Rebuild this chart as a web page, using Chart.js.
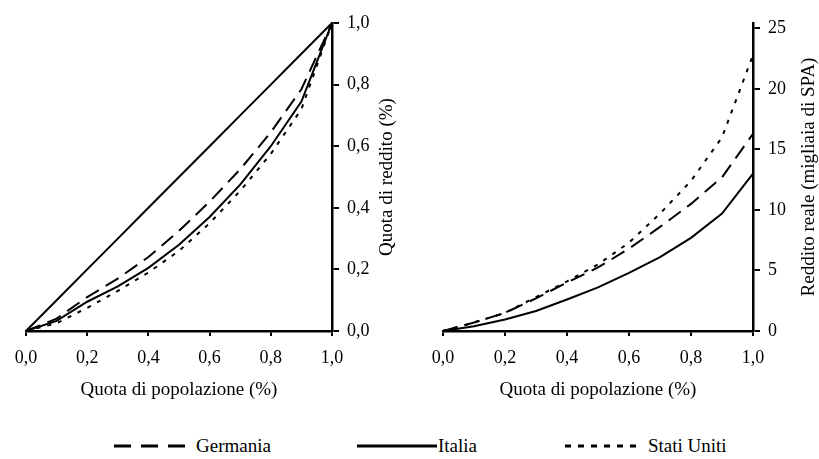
<!DOCTYPE html>
<html><head><meta charset="utf-8">
<script src="https://cdn.jsdelivr.net/npm/chart.js@4.4.1/dist/chart.umd.min.js"></script>
<style>
html,body{margin:0;padding:0;background:#fff;width:819px;height:459px;overflow:hidden;font-family:"Liberation Serif","Times New Roman",serif;}
#w1{position:absolute;left:0;top:0;width:410px;height:420px;}
#w2{position:absolute;left:410px;top:0;width:409px;height:420px;}
.leg{position:absolute;top:434px;height:24px;line-height:24px;font-size:19px;color:#000;white-space:nowrap;}
.leg svg{position:absolute;left:0;top:0;}
</style></head><body>
<div id="w1"><canvas id="c1"></canvas></div>
<div id="w2"><canvas id="c2"></canvas></div>
<div class="leg" id="lg0" style="left:114px;padding-left:82px;"></div>
<div class="leg" id="lg1" style="left:357px;padding-left:81px;"></div>
<div class="leg" id="lg2" style="left:565px;padding-left:83px;"></div>
<script>
// ---- data ----
const seriesNames = ['Germania', 'Italia', 'Stati Uniti'];
const popShare = [0, 0.1, 0.2, 0.3, 0.4, 0.5, 0.6, 0.7, 0.8, 0.9, 1.0];
const equalityLine = [0, 0.1, 0.2, 0.3, 0.4, 0.5, 0.6, 0.7, 0.8, 0.9, 1.0];
const germaniaQuota = [0, 0.04, 0.11, 0.17, 0.24, 0.325, 0.42, 0.525, 0.645, 0.785, 1.0];
const italiaQuota   = [0, 0.033, 0.095, 0.145, 0.205, 0.28, 0.37, 0.475, 0.6, 0.745, 1.0];
const usaQuota      = [0, 0.025, 0.075, 0.13, 0.19, 0.26, 0.35, 0.455, 0.575, 0.72, 1.0];
const germaniaReddito = [0, 0.7, 1.5, 2.7, 4.0, 5.25, 6.8, 8.6, 10.5, 12.7, 16.3];
const italiaReddito   = [0, 0.4, 0.95, 1.65, 2.6, 3.6, 4.8, 6.1, 7.7, 9.7, 13.0];
const usaReddito      = [0, 0.7, 1.5, 2.8, 4.1, 5.5, 7.3, 9.7, 12.4, 16.0, 22.8];
const xTicks = [0, 0.2, 0.4, 0.6, 0.8, 1.0];
const leftYTicks = [0, 0.2, 0.4, 0.6, 0.8, 1.0];
const rightYTicks = [0, 5, 10, 15, 20, 25];

// ---- styles ----
const FONT = 'Liberation Serif';
Chart.defaults.font.family = FONT;
Chart.defaults.font.size = 18;
Chart.defaults.color = '#000';
const dashG = [15, 8], dashU = [4, 7];
const pts = (ys) => popShare.map((x, i) => ({x: x, y: ys[i]}));
const comma = (v) => Number(v).toFixed(1).replace('.', ',');

function line(label, ys, dash) {
  return {label, data: pts(ys), borderColor: '#000', borderWidth: 2, borderDash: dash,
          pointRadius: 0, tension: 0, fill: false, clip: false};
}

const sideTitle = {
  id: 'sideTitle',
  afterDraw(chart, args, opts) {
    const {ctx, chartArea} = chart;
    ctx.save();
    ctx.font = '19px "' + FONT + '"';
    ctx.fillStyle = '#000';
    ctx.textAlign = 'center';
    ctx.textBaseline = 'middle';
    ctx.translate(chartArea.right + opts.offset, (chartArea.top + chartArea.bottom) / 2);
    ctx.rotate(-Math.PI / 2);
    ctx.fillText(opts.text, 0, 0);
    ctx.restore();
  }
};

function opts(cfg) {
  return {
    responsive: true, maintainAspectRatio: false, animation: false,
    layout: {padding: {left: cfg.padLeft, top: 23, right: 0, bottom: 0}},
    plugins: {legend: {display: false}, tooltip: {enabled: false},
              sideTitle: {text: cfg.yTitle, offset: cfg.titleOffset}},
    scales: {
      x: {type: 'linear', min: 0, max: 1, position: 'bottom',
          afterBuildTicks: (s) => { s.ticks = xTicks.map(v => ({value: v})); },
          afterFit: (s) => { s.height = 420 - 331; },
          ticks: {callback: comma, padding: 11, maxRotation: 0, autoSkip: false},
          grid: {drawOnChartArea: false, drawTicks: true, tickLength: 5, color: '#000', lineWidth: 2},
          border: {display: true, color: '#000', width: 2.5},
          title: {display: true, text: 'Quota di popolazione (%)', font: {size: 19}, padding: {top: 0, bottom: 19}}},
      y: {type: 'linear', min: 0, max: cfg.yMax, position: 'right', bounds: 'data',
          afterBuildTicks: (s) => { s.ticks = cfg.yTicks.map(v => ({value: v})); },
          afterFit: (s) => { s.width = cfg.yWidth; },
          ticks: {callback: cfg.yFmt, padding: 8, autoSkip: false},
          grid: {drawOnChartArea: false, drawTicks: true, tickLength: 7, color: '#000', lineWidth: 2},
          border: {display: true, color: '#000', width: 2.5},
          title: {display: false}}
    }
  };
}

new Chart(document.getElementById('c1'), {
  type: 'line',
  data: {datasets: [
    line('Uguaglianza', equalityLine, []),
    line(seriesNames[0], germaniaQuota, dashG),
    line(seriesNames[1], italiaQuota, []),
    line(seriesNames[2], usaQuota, dashU)
  ]},
  options: opts({padLeft: 26, yMax: 1, yTicks: leftYTicks, yWidth: 410 - 332, yFmt: comma,
                 yTitle: 'Quota di reddito (%)', titleOffset: 55}),
  plugins: [sideTitle]
});

new Chart(document.getElementById('c2'), {
  type: 'line',
  data: {datasets: [
    line(seriesNames[0], germaniaReddito, dashG),
    line(seriesNames[1], italiaReddito, []),
    line(seriesNames[2], usaReddito, dashU)
  ]},
  options: opts({padLeft: 33, yMax: 25.45, yTicks: rightYTicks, yWidth: 409 - 343, yFmt: (v) => String(v),
                 yTitle: 'Reddito reale (migliaia di SPA)', titleOffset: 56}),
  plugins: [sideTitle]
});

// ---- legend ----
const legendDash = [[17, 10], [], [6, 7]];
const legendW = [73, 80, 78];
seriesNames.forEach((name, i) => {
  const el = document.getElementById('lg' + i);
  const da = legendDash[i].length ? ' stroke-dasharray="' + legendDash[i].join(' ') + '"' : '';
  el.innerHTML = '<svg width="' + legendW[i] + '" height="24"><line x1="0" y1="12" x2="' + legendW[i] +
    '" y2="12" stroke="#000" stroke-width="3"' + da + '/></svg>' + name;
});
</script>
</body></html>
